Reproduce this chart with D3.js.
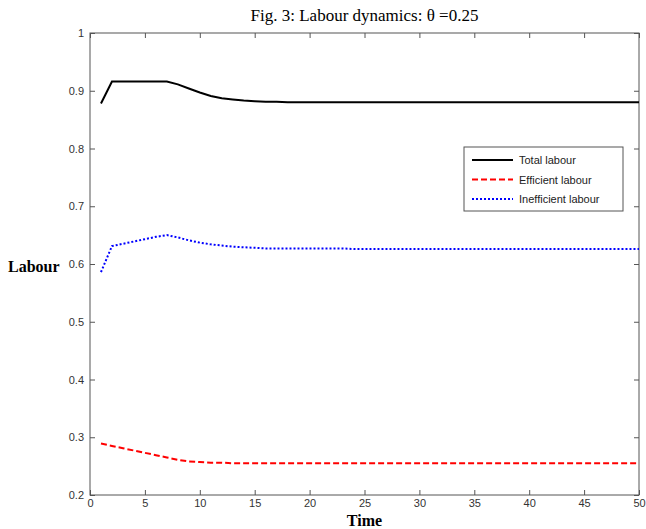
<!DOCTYPE html>
<html>
<head>
<meta charset="utf-8">
<script src="https://cdn.jsdelivr.net/npm/d3@7"></script>
<style>
  body { margin: 0; background: #fff; }
  svg { display: block; }
  .tick text { font-family: "Liberation Sans", Arial, sans-serif; font-size: 11px; fill: #333; }
</style>
</head>
<body>
<svg class="line-chart"></svg>
<script>
'use strict';

// time steps 1..50
var timeSteps = [1, 2, 3, 4, 5, 6, 7, 8, 9, 10, 11, 12, 13, 14, 15, 16, 17, 18, 19, 20,
  21, 22, 23, 24, 25, 26, 27, 28, 29, 30, 31, 32, 33, 34, 35, 36, 37, 38, 39, 40,
  41, 42, 43, 44, 45, 46, 47, 48, 49, 50];

var totalLabour = [0.878, 0.916, 0.916, 0.916, 0.916, 0.916, 0.916, 0.911, 0.904, 0.897,
  0.891, 0.887, 0.885, 0.883, 0.882, 0.881, 0.881, 0.880, 0.880, 0.880,
  0.880, 0.880, 0.880, 0.880, 0.880, 0.880, 0.880, 0.880, 0.880, 0.880,
  0.880, 0.880, 0.880, 0.880, 0.880, 0.880, 0.880, 0.880, 0.880, 0.880,
  0.880, 0.880, 0.880, 0.880, 0.880, 0.880, 0.880, 0.880, 0.880, 0.880];

var efficientLabour = [0.289, 0.285, 0.281, 0.277, 0.273, 0.269, 0.265, 0.261, 0.258, 0.257,
  0.256, 0.256, 0.255, 0.255, 0.255, 0.255, 0.255, 0.255, 0.255, 0.255,
  0.255, 0.255, 0.255, 0.255, 0.255, 0.255, 0.255, 0.255, 0.255, 0.255,
  0.255, 0.255, 0.255, 0.255, 0.255, 0.255, 0.255, 0.255, 0.255, 0.255,
  0.255, 0.255, 0.255, 0.255, 0.255, 0.255, 0.255, 0.255, 0.255, 0.255];

var inefficientLabour = [0.586, 0.631, 0.635, 0.639, 0.643, 0.647, 0.650, 0.646, 0.641, 0.637,
  0.634, 0.632, 0.630, 0.629, 0.628, 0.627, 0.627, 0.627, 0.627, 0.627,
  0.627, 0.627, 0.627, 0.626, 0.626, 0.626, 0.626, 0.626, 0.626, 0.626,
  0.626, 0.626, 0.626, 0.626, 0.626, 0.626, 0.626, 0.626, 0.626, 0.626,
  0.626, 0.626, 0.626, 0.626, 0.626, 0.626, 0.626, 0.626, 0.626, 0.626];

var xTicks = [0, 5, 10, 15, 20, 25, 30, 35, 40, 45, 50];
var yTicks = [0.2, 0.3, 0.4, 0.5, 0.6, 0.7, 0.8, 0.9, 1];

var seriesNames = ['Total labour', 'Efficient labour', 'Inefficient labour'];
var seriesColors = ['#000000', '#ff0000', '#0000ff'];
var seriesDash = ['none', '6,3', '2,2'];

var width = 646, height = 529;
var margin = { top: 33, right: 7, bottom: 34, left: 90 };
var graphWidth = width - margin.left - margin.right;
var graphHeight = height - margin.top - margin.bottom;

var svg = d3.select('svg.line-chart').attr('width', width).attr('height', height);
var graph = svg.append('g').attr('transform', 'translate(' + margin.left + ',' + margin.top + ')');

//Scales
var xScale = d3.scaleLinear().domain([0, 50]).range([0, graphWidth]);
var yScale = d3.scaleLinear().domain([0.2, 1]).range([graphHeight, 0]);

//Box
graph.append('rect').attr('width', graphWidth).attr('height', graphHeight)
  .attr('fill', 'none').attr('stroke', '#555').attr('stroke-width', 1);

//Axes with inward ticks
function styleAxis(g) {
  g.select('.domain').remove();
  g.selectAll('.tick line').attr('stroke', '#555');
}
graph.append('g').attr('transform', 'translate(0,' + graphHeight + ')')
  .call(d3.axisBottom(xScale).tickValues(xTicks).tickSizeInner(-5).tickSizeOuter(0).tickPadding(4).tickFormat(d3.format('d')))
  .call(styleAxis);
graph.append('g')
  .call(d3.axisTop(xScale).tickValues(xTicks).tickSizeInner(-5).tickSizeOuter(0).tickFormat(''))
  .call(styleAxis);
graph.append('g')
  .call(d3.axisLeft(yScale).tickValues(yTicks).tickSizeInner(-5).tickSizeOuter(0).tickPadding(6).tickFormat(d3.format('')))
  .call(styleAxis);
graph.append('g').attr('transform', 'translate(' + graphWidth + ',0)')
  .call(d3.axisRight(yScale).tickValues(yTicks).tickSizeInner(-5).tickSizeOuter(0).tickFormat(''))
  .call(styleAxis);

//Lines
var seriesData = [totalLabour, efficientLabour, inefficientLabour];
var line = d3.line().x(function (d, i) { return xScale(timeSteps[i]); }).y(function (d) { return yScale(d); });

seriesData.forEach(function (vals, k) {
  graph.append('path').datum(vals)
    .attr('fill', 'none')
    .attr('stroke', seriesColors[k])
    .attr('stroke-width', 2)
    .attr('stroke-dasharray', seriesDash[k])
    .attr('d', line);
});

//Legend
var legend = graph.append('g').attr('transform', 'translate(' + (464 - margin.left) + ',' + (147 - margin.top) + ')');
legend.append('rect').attr('width', 159).attr('height', 64)
  .attr('fill', '#fff').attr('stroke', '#555').attr('stroke-width', 1);
seriesNames.forEach(function (name, k) {
  var y = 13 + k * 19.5;
  legend.append('line').attr('x1', 8).attr('x2', 49).attr('y1', y).attr('y2', y)
    .attr('stroke', seriesColors[k]).attr('stroke-width', 2).attr('stroke-dasharray', seriesDash[k]);
  legend.append('text').attr('x', 55).attr('y', y + 4)
    .style('font-family', '"Liberation Sans", Arial, sans-serif').style('font-size', '11px').style('fill', '#222')
    .text(name);
});

//Title
svg.append('text').attr('x', margin.left + graphWidth / 2).attr('y', 21)
  .style('text-anchor', 'middle').style('font-family', '"Liberation Serif", "Times New Roman", serif')
  .style('font-size', '17px').text('Fig. 3: Labour dynamics: θ =0.25');

//x label
svg.append('text').attr('x', margin.left + graphWidth / 2).attr('y', 526)
  .style('text-anchor', 'middle').style('font-family', '"Liberation Serif", "Times New Roman", serif')
  .style('font-size', '16px').style('font-weight', '600').text('Time');

//y label
svg.append('text').attr('x', 8).attr('y', 272)
  .style('font-family', '"Liberation Serif", "Times New Roman", serif')
  .style('font-size', '16px').style('font-weight', '600').text('Labour');
</script>
</body>
</html>
